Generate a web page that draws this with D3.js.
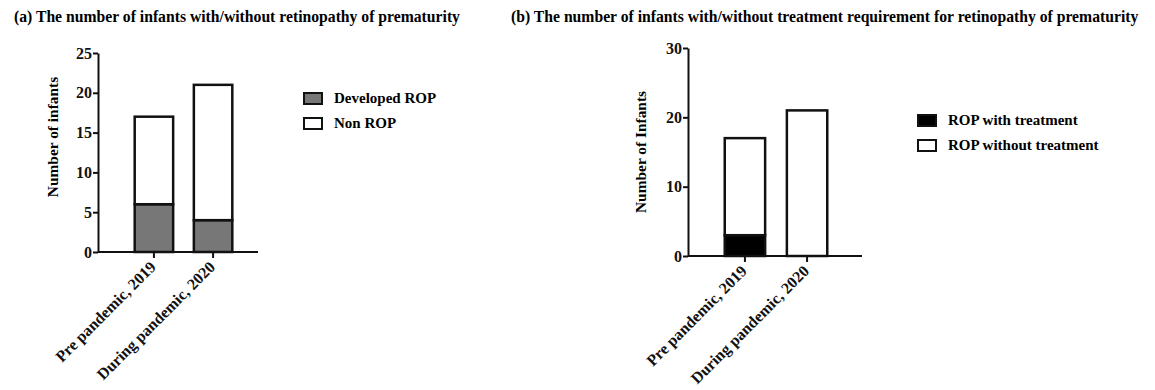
<!DOCTYPE html>
<html>
<head>
<meta charset="utf-8">
<script src="https://cdn.jsdelivr.net/npm/d3@7"></script>
<style>
	body { margin: 0; background: #fff; }
	svg { display: block; font-family: "Liberation Serif", "Times New Roman", serif; font-weight: bold; }
	.axis path, .axis line { stroke: #111; stroke-width: 2; }
	.axis text { font-family: "Liberation Serif", serif; font-weight: bold; font-size: 16px; fill: #111; }
</style>
</head>
<body>
<div id="chart"></div>
<script>
var categories = ["Pre pandemic, 2019", "During pandemic, 2020"];

// panel a
var developedROP = [6, 4];
var nonROP = [11, 17];
var ticksA = [0, 5, 10, 15, 20, 25];

// panel b
var withTreatment = [3, 0];
var withoutTreatment = [14, 21];
var ticksB = [0, 10, 20, 30];

var width = 1155, height = 390;

var svg = d3.select("#chart").append("svg")
		.attr("width", width)
		.attr("height", height);

function buildPanel(cfg) {
	var g = svg.append("g");

	g.append("text")
			.attr("x", cfg.titleX)
			.attr("y", 22)
			.style("font-size", "15.7px")
			.text(cfg.title);

	var y = d3.scaleLinear()
			.domain([0, cfg.max])
			.range([cfg.y0, cfg.yTop]);

	var x = d3.scaleBand()
			.domain(categories)
			.range([cfg.bandL, cfg.bandR])
			.padding(0.35);

	// stack the two series
	var rows = categories.map(function(c, i) {
		return {cat: c, lower: cfg.lower[i], upper: cfg.upper[i]};
	});
	var stack = d3.stack().keys(["lower", "upper"])(rows);

	var bars = g.append("g");
	stack.forEach(function(layer, li) {
		bars.selectAll(null)
				.data(layer)
				.enter()
				.append("rect")
				.attr("x", function(d) {return x(d.data.cat);})
				.attr("y", function(d) {return y(d[1]);})
				.attr("width", x.bandwidth())
				.attr("height", function(d) {return y(d[0]) - y(d[1]);})
				.style("fill", cfg.fills[li])
				.style("stroke", "#111")
				.style("stroke-width", 2.5);
	});

	// y axis
	g.append("g")
			.attr("class", "axis")
			.attr("transform", "translate(" + cfg.axisX + ",0)")
			.call(d3.axisLeft(y).tickValues(cfg.ticks).tickSize(5).tickSizeOuter(0).tickPadding(1));

	// x axis line from origin
	var xAxis = g.append("g")
			.attr("class", "axis")
			.attr("transform", "translate(0," + cfg.y0 + ")")
			.call(d3.axisBottom(x).tickSize(6).tickSizeOuter(0).tickFormat(""));
	xAxis.select(".domain").attr("d", "M" + cfg.axisX + ",0H" + cfg.axisEnd);

	xAxis.selectAll(".tick")
			.append("text")
			.attr("text-anchor", "end")
			.attr("transform", "translate(3,16) rotate(-45)")
			.style("font-size", "16px")
			.style("fill", "#111")
			.text(function(d) {return d;});

	g.append("text")
			.attr("transform", "translate(" + cfg.labelX + "," + cfg.labelY + ") rotate(-90)")
			.attr("text-anchor", "middle")
			.style("font-size", "15.4px")
			.text(cfg.yLabel);

	// legend
	var leg = g.append("g").attr("transform", "translate(" + cfg.legX + "," + cfg.legY + ")");
	cfg.legend.forEach(function(name, i) {
		var row = leg.append("g").attr("transform", "translate(0," + (i * 25) + ")");
		row.append("rect")
				.attr("x", 0)
				.attr("y", 0)
				.attr("width", 18)
				.attr("height", 11)
				.style("fill", cfg.fills[i])
				.style("stroke", "#111")
				.style("stroke-width", 2);
		row.append("text")
				.attr("x", 30)
				.attr("y", 10)
				.style("font-size", "15px")
				.text(name);
	});
}

buildPanel({
	title: "(a) The number of infants with/without retinopathy of prematurity",
	titleX: 14,
	max: 25, ticks: ticksA,
	y0: 252, yTop: 53,
	axisX: 98, axisEnd: 258,
	bandL: 114, bandR: 253,
	lower: developedROP, upper: nonROP,
	fills: ["#777777", "#ffffff"],
	yLabel: "Number of infants", labelX: 58, labelY: 137,
	legend: ["Developed ROP", "Non ROP"],
	legX: 304, legY: 93
});

buildPanel({
	title: "(b) The number of infants with/without treatment requirement for retinopathy of prematurity",
	titleX: 511,
	max: 30, ticks: ticksB,
	y0: 256, yTop: 48,
	axisX: 688, axisEnd: 862,
	bandL: 703, bandR: 849,
	lower: withTreatment, upper: withoutTreatment,
	fills: ["#000000", "#ffffff"],
	yLabel: "Number of Infants", labelX: 646, labelY: 152,
	legend: ["ROP with treatment", "ROP without treatment"],
	legX: 918, legY: 115
});
</script>
</body>
</html>
